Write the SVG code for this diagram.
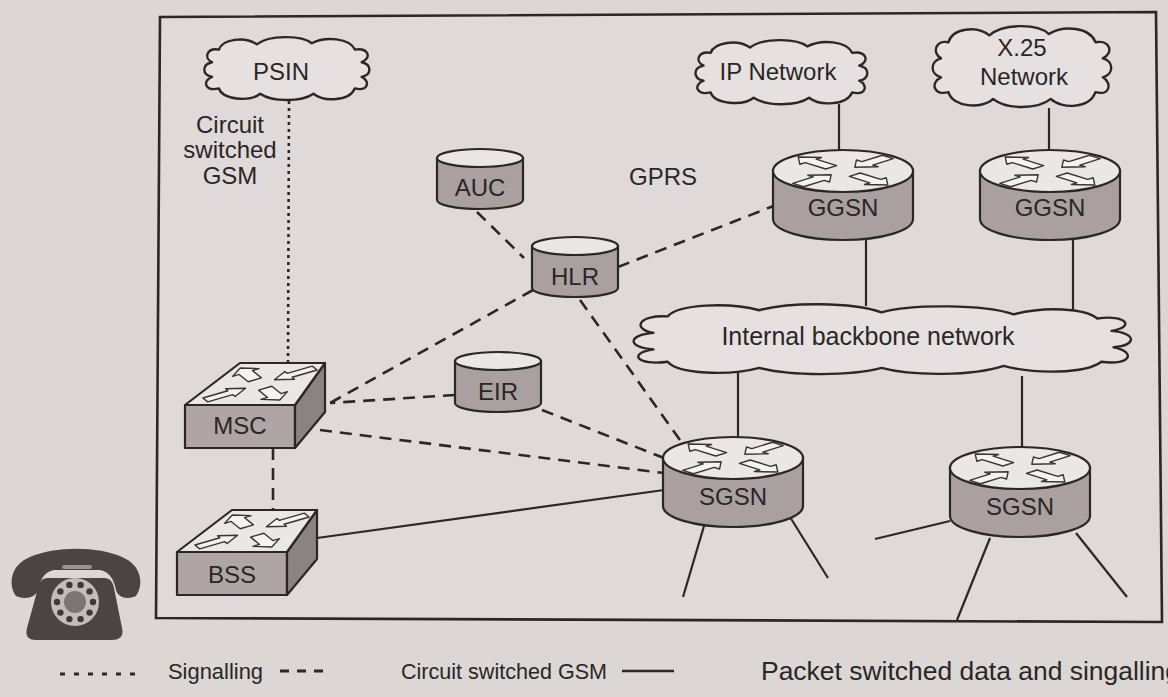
<svg xmlns="http://www.w3.org/2000/svg" xmlns:xlink="http://www.w3.org/1999/xlink" width="1168" height="697" viewBox="0 0 1168 697">
  <style>
    text { font-family: "Liberation Sans", Arial, Helvetica, sans-serif; fill: #2a2626; }
    .lbl { font-size: 24px; text-anchor: middle; }
    .body { fill: #a9a09f; stroke: #2b2727; stroke-width: 2.2; }
    .front { fill: #aea5a4; stroke: #2b2727; stroke-width: 2.2; stroke-linejoin: round; }
    .side { fill: #8b8382; stroke: #2b2727; stroke-width: 2.2; stroke-linejoin: round; }
    .top { fill: #ebe7e6; stroke: #2b2727; stroke-width: 2.2; stroke-linejoin: round; }
    .arrows { fill: #f5f2f1; stroke: #3a3535; stroke-width: 1.4; stroke-linejoin: round; }
    .cloud { fill: #e6e1e0; stroke: #2b2727; stroke-width: 2.4; stroke-linejoin: round; }
    .pk { stroke: #2b2727; stroke-width: 2.2; fill: none; }
    .cs { stroke: #2b2727; stroke-width: 2.6; fill: none; stroke-dasharray: 12 8; }
    .sig { stroke: #2b2727; stroke-width: 2.6; fill: none; stroke-dasharray: 3 4; }
  </style>
  <defs>
    <!-- four block arrows in a unit square, X layout -->
    <path id="arrow-set" vector-effect="non-scaling-stroke" d="M0.354,0.554 L0.1801,0.7279 L0.1342,0.682 L0.12,0.88 L0.318,0.8658 L0.2721,0.8199 L0.446,0.646 Z
      M0.926,0.834 L0.7521,0.6601 L0.798,0.6142 L0.6,0.6 L0.6142,0.798 L0.6601,0.7521 L0.834,0.926 Z
      M0.074,0.166 L0.2479,0.3399 L0.202,0.3858 L0.4,0.4 L0.3858,0.202 L0.3399,0.2479 L0.166,0.074 Z
      M0.646,0.446 L0.8199,0.2721 L0.8658,0.318 L0.88,0.12 L0.682,0.1342 L0.7279,0.1801 L0.554,0.354 Z"/>
    <!-- router: short cylinder with arrows on the lid -->
    <g id="router">
      <path class="body" d="M-70,0 V48 A70 21 0 0 0 70,48 V0 Z"/>
      <ellipse class="top" cx="0" cy="0" rx="70" ry="21"/>
      <use xlink:href="#arrow-set" class="arrows" transform="matrix(118,0,0,-37,-59,18.5)"/>
    </g>
    <!-- database drum -->
    <g id="db">
      <path class="body" d="M-43,0 V42 A43 9 0 0 0 43,42 V0 Z"/>
      <ellipse class="top" cx="0" cy="0" rx="43" ry="9"/>
    </g>
    <!-- switch box, origin at front-top-left corner -->
    <g id="switch">
      <polygon class="front" points="0,0 110,0 110,43 0,43"/>
      <polygon class="side" points="110,0 140,-42 140,7 110,43"/>
      <polygon class="top" points="0,0 55,-42 140,-42 110,0"/>
      <use xlink:href="#arrow-set" class="arrows" transform="matrix(98,0,46,-42,3,0)"/>
    </g>
    <!-- cloud outlines -->
    <path id="cloud-small" vector-effect="non-scaling-stroke" d="M22,12 C26,2 52,-1 66,7 C80,-2 118,-2 130,6 C146,-1 174,1 180,12
      C196,10 200,20 188,24 C200,26 200,36 188,38 C198,42 196,52 180,49
      C174,61 144,62 132,54 C118,62 84,62 70,54 C58,62 26,60 22,49
      C6,52 2,42 14,38 C2,36 2,26 14,24 C4,20 8,10 22,12 Z"/>
    <path id="cloud-wide" vector-effect="non-scaling-stroke" d="M40,14 C50,2 100,0 130,8 C160,0 220,0 250,10 C280,2 350,2 380,12 C410,4 450,6 462,16
      C490,12 500,24 476,28 C500,30 502,42 478,44 C500,48 496,62 466,58
      C450,70 400,70 370,62 C340,72 280,72 250,64 C220,72 160,72 130,64 C100,72 50,70 40,58
      C10,62 0,50 26,46 C0,44 0,32 26,30 C4,26 12,12 40,14 Z"/>
  </defs>

  <!-- page -->
  <rect x="0" y="0" width="1168" height="697" fill="#dcd6d5"/>
  <path d="M160,17 L1156,12 L1162,622 L156,618 Z" fill="#dfdad9" stroke="#2b2727" stroke-width="2.6"/>

  <!-- connectors -->
  <g id="connectors">
    <line class="sig" x1="289" y1="101" x2="288" y2="362"/>
    <line class="cs" x1="273" y1="448" x2="273" y2="510"/>
    <line class="cs" x1="477" y1="212" x2="524" y2="258"/>
    <line class="cs" x1="618" y1="267" x2="776" y2="205"/>
    <line class="cs" x1="533" y1="290" x2="330" y2="403"/>
    <line class="cs" x1="580" y1="300" x2="680" y2="440"/>
    <line class="cs" x1="455" y1="395" x2="330" y2="403"/>
    <line class="cs" x1="542" y1="410" x2="664" y2="458"/>
    <line class="cs" x1="320" y1="430" x2="664" y2="473"/>
    <line class="pk" x1="317" y1="538" x2="664" y2="490"/>
    <line class="pk" x1="839" y1="104" x2="839" y2="150"/>
    <line class="pk" x1="1049" y1="108" x2="1049" y2="150"/>
    <line class="pk" x1="866" y1="240" x2="866" y2="306"/>
    <line class="pk" x1="1073" y1="240" x2="1073" y2="316"/>
    <line class="pk" x1="738" y1="368" x2="738" y2="437"/>
    <line class="pk" x1="1022" y1="376" x2="1022" y2="447"/>
    <line class="pk" x1="704" y1="526" x2="683" y2="597"/>
    <line class="pk" x1="790" y1="517" x2="828" y2="578"/>
    <line class="pk" x1="950" y1="521" x2="875" y2="539"/>
    <line class="pk" x1="990" y1="538" x2="957" y2="620"/>
    <line class="pk" x1="1076" y1="533" x2="1127" y2="597"/>
  </g>

  <!-- networks -->
  <g id="psin">
    <use xlink:href="#cloud-small" class="cloud" transform="translate(200,37) scale(0.86,1.05)"/>
    <text class="lbl" x="281" y="80">PSIN</text>
  </g>
  <g id="ip-network">
    <use xlink:href="#cloud-small" class="cloud" transform="translate(691,40) scale(0.895,1.07)"/>
    <text class="lbl" x="778" y="80">IP Network</text>
  </g>
  <g id="x25-network">
    <use xlink:href="#cloud-small" class="cloud" transform="translate(928,26) scale(0.93,1.35)"/>
    <text class="lbl" x="1022" y="56">X.25</text>
    <text class="lbl" x="1024" y="85">Network</text>
  </g>
  <g id="backbone">
    <use xlink:href="#cloud-wide" class="cloud" transform="translate(627,302) scale(1.018,1.03)"/>
    <text class="lbl" x="868" y="345" style="font-size:25px">Internal backbone network</text>
  </g>

  <!-- GPRS core -->
  <g id="ggsn1" transform="translate(843,171)">
    <use xlink:href="#router"/>
    <text class="lbl" x="0" y="45">GGSN</text>
  </g>
  <g id="ggsn2" transform="translate(1050,171)">
    <use xlink:href="#router"/>
    <text class="lbl" x="0" y="45">GGSN</text>
  </g>
  <g id="sgsn1" transform="translate(733,458)">
    <use xlink:href="#router"/>
    <text class="lbl" x="0" y="47">SGSN</text>
  </g>
  <g id="sgsn2" transform="translate(1020,468)">
    <use xlink:href="#router"/>
    <text class="lbl" x="0" y="47">SGSN</text>
  </g>

  <!-- registers -->
  <g id="auc" transform="translate(480,158)">
    <use xlink:href="#db"/>
    <text class="lbl" x="0" y="38">AUC</text>
  </g>
  <g id="hlr" transform="translate(575,246)">
    <use xlink:href="#db"/>
    <text class="lbl" x="0" y="39">HLR</text>
  </g>
  <g id="eir" transform="translate(498,361)">
    <use xlink:href="#db"/>
    <text class="lbl" x="0" y="39">EIR</text>
  </g>

  <!-- GSM switching -->
  <g id="msc" transform="translate(185,405)">
    <use xlink:href="#switch"/>
    <text class="lbl" x="55" y="29">MSC</text>
  </g>
  <g id="bss" transform="translate(177,552)">
    <use xlink:href="#switch"/>
    <text class="lbl" x="55" y="31">BSS</text>
  </g>

  <!-- free labels -->
  <g id="labels">
    <text class="lbl" x="230" y="133">Circuit</text>
    <text class="lbl" x="230" y="158">switched</text>
    <text class="lbl" x="230" y="184">GSM</text>
    <text x="629" y="185" style="font-size:24px">GPRS</text>
  </g>

  <!-- telephone -->
  <g id="phone">
    <path d="M48,578 L104,578 C110,578 113,582 114,588 L122,628 C124,636 120,640 112,640 L36,640 C28,640 25,636 27,628 L38,588 C39,582 42,578 48,578 Z" fill="#4a4444"/>
    <path d="M16,596 C8,585 10,565 30,557 C55,546 98,546 122,557 C142,565 144,585 136,596 C128,600 118,598 116,590 C114,580 110,572 100,570 L54,570 C44,572 40,580 38,590 C36,598 24,600 16,596 Z" fill="#4a4444"/>
    <rect x="62" y="565" width="30" height="4" rx="2" fill="#9a9292"/>
    <circle cx="75" cy="602" r="24" fill="#c4bcbb"/>
    <g fill="#3e3939">
      <circle cx="93" cy="602" r="3.2"/><circle cx="89.6" cy="612.6" r="3.2"/><circle cx="80.6" cy="619.1" r="3.2"/>
      <circle cx="69.4" cy="619.1" r="3.2"/><circle cx="60.4" cy="612.6" r="3.2"/><circle cx="57" cy="602" r="3.2"/>
      <circle cx="60.4" cy="591.4" r="3.2"/><circle cx="69.4" cy="584.9" r="3.2"/><circle cx="80.6" cy="584.9" r="3.2"/>
      <circle cx="89.6" cy="591.4" r="3.2"/>
    </g>
    <circle cx="75" cy="602" r="11" fill="#7d7575"/>
  </g>

  <!-- key -->
  <g id="legend">
    <line x1="60" y1="674" x2="140" y2="674" stroke="#2b2727" stroke-width="3" stroke-dasharray="5 9"/>
    <text x="168" y="679" style="font-size:22px" textLength="95" lengthAdjust="spacingAndGlyphs">Signalling</text>
    <line x1="280" y1="671" x2="324" y2="671" stroke="#2b2727" stroke-width="3" stroke-dasharray="9 8"/>
    <text x="401" y="679" style="font-size:22px" textLength="206" lengthAdjust="spacingAndGlyphs">Circuit switched GSM</text>
    <line x1="622" y1="671" x2="674" y2="671" stroke="#2b2727" stroke-width="2.6"/>
    <text x="761" y="680" style="font-size:25px" textLength="419" lengthAdjust="spacingAndGlyphs">Packet switched data and singalling</text>
  </g>
</svg>
